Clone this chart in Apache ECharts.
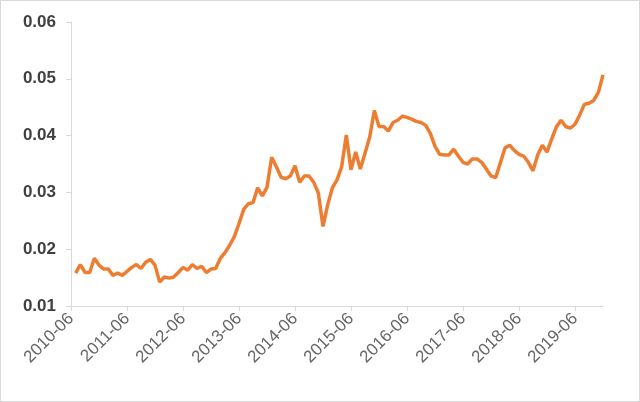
<!DOCTYPE html>
<html>
<head>
<meta charset="utf-8">
<script src="https://cdn.jsdelivr.net/npm/echarts@6/dist/echarts.min.js"></script>
<style>
html, body { margin: 0; padding: 0; background: #fff; }
#main {
  width: 640px;
  height: 402px;
  box-sizing: border-box;
  border: 1px solid #d9d9d9;
}
</style>
</head>
<body>
<div id="main"></div>
<script>
// monthly categories 2010-06 .. 2019-12
var months = [];
for (var y = 2010; y <= 2019; y++) {
  for (var m = 1; m <= 12; m++) {
    if (y == 2010 && m < 6) continue;
    months.push(y + '-' + (m < 10 ? '0' + m : m));
  }
}

// 2010
var v2010 = [null, 0.0158, 0.0173, 0.0159, 0.0159, 0.0184, 0.0172];
// 2011
var v2011 = [0.0165, 0.0165, 0.0154, 0.0158, 0.0154, 0.0161, 0.0168, 0.0173, 0.0166, 0.0177, 0.0182, 0.0172];
// 2012
var v2012 = [0.0142, 0.0151, 0.0149, 0.0151, 0.0159, 0.0168, 0.0163, 0.0173, 0.0166, 0.0170, 0.0159, 0.0165];
// 2013
var v2013 = [0.0166, 0.0184, 0.0194, 0.0207, 0.0222, 0.0245, 0.0270, 0.0280, 0.0282, 0.0308, 0.0294, 0.0309];
// 2014
var v2014 = [0.0362, 0.0345, 0.0327, 0.0324, 0.0329, 0.0347, 0.0318, 0.0329, 0.0329, 0.0318, 0.0299, 0.0240];
// 2015
var v2015 = [0.0278, 0.0308, 0.0322, 0.0345, 0.0401, 0.0340, 0.0371, 0.0341, 0.0369, 0.0397, 0.0444, 0.0416];
// 2016
var v2016 = [0.0416, 0.0408, 0.0423, 0.0427, 0.0434, 0.0432, 0.0429, 0.0425, 0.0423, 0.0418, 0.0404, 0.0381];
// 2017
var v2017 = [0.0367, 0.0366, 0.0366, 0.0376, 0.0364, 0.0353, 0.0350, 0.0359, 0.0359, 0.0353, 0.0341, 0.0329];
// 2018
var v2018 = [0.0326, 0.0352, 0.0378, 0.0383, 0.0374, 0.0367, 0.0364, 0.0353, 0.0338, 0.0366, 0.0383, 0.0371];
// 2019
var v2019 = [0.0394, 0.0415, 0.0427, 0.0416, 0.0413, 0.0420, 0.0436, 0.0455, 0.0457, 0.0462, 0.0476, 0.0507];

var values = [].concat(v2010, v2011, v2012, v2013, v2014, v2015, v2016, v2017, v2018, v2019);

var yTicks = [0.01, 0.02, 0.03, 0.04, 0.05, 0.06];

var chart = echarts.init(document.getElementById('main'));
chart.setOption({
  animation: false,
  grid: { left: 70, right: 36, top: 21, bottom: 95, containLabel: false },
  xAxis: {
    type: 'category',
    data: months,
    boundaryGap: false,
    axisLine: { lineStyle: { color: '#d9d9d9', width: 1 } },
    axisTick: { interval: 11, length: 5, lineStyle: { color: '#d9d9d9' } },
    axisLabel: {
      interval: 11,
      rotate: 45,
      color: '#666666',
      fontSize: 17,
      fontFamily: 'Liberation Sans',
      margin: 10
    },
    splitLine: { show: false }
  },
  yAxis: {
    type: 'value',
    min: yTicks[0],
    max: yTicks[yTicks.length - 1],
    interval: 0.01,
    axisLine: { show: true, lineStyle: { color: '#d9d9d9', width: 1 } },
    axisTick: { show: true, length: 5, lineStyle: { color: '#d9d9d9' } },
    axisLabel: {
      color: '#404040',
      fontSize: 17,
      fontWeight: 'bold',
      fontFamily: 'Liberation Sans',
      margin: 15,
      formatter: function (v) { return v.toFixed(2); }
    },
    splitLine: { show: false }
  },
  series: [{
    type: 'line',
    data: values,
    showSymbol: false,
    connectNulls: false,
    lineStyle: { color: '#ED7D31', width: 3.5 },
    itemStyle: { color: '#ED7D31' }
  }]
});
</script>
</body>
</html>
